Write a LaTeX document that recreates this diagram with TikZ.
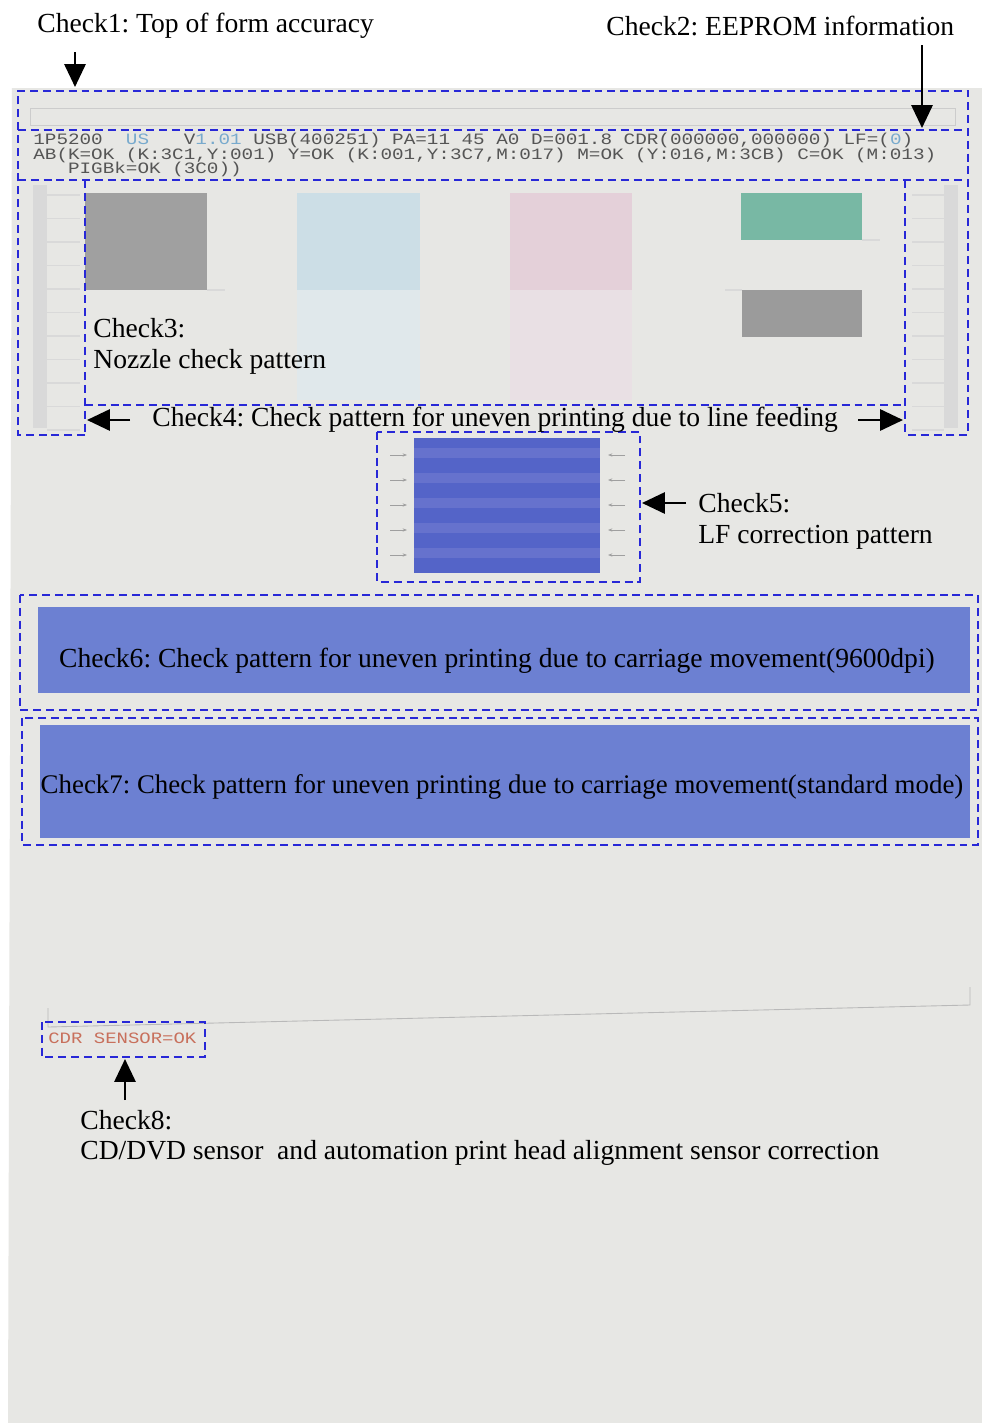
\documentclass[tikz,border=0pt]{standalone}
\usepackage{fontspec}
\setmainfont{Liberation Serif}
\setmonofont{Liberation Mono}
\usetikzlibrary{arrows.meta,positioning}
\frenchspacing
\definecolor{paperC}  {RGB}{231,231,228}
\definecolor{chkBlue} {RGB}{ 40, 40,215}
\definecolor{bandC}   {RGB}{108,128,210}
\definecolor{lfC}     {RGB}{ 84,100,200}
\definecolor{lfStripe}{RGB}{102,114,205}
\definecolor{monoC}   {RGB}{ 85, 85, 85}
\definecolor{verC}    {RGB}{120,170,205}
\definecolor{cdrC}    {RGB}{200,112, 92}
\definecolor{nozK}    {RGB}{160,160,160}
\definecolor{nozC}    {RGB}{204,222,230}
\definecolor{nozCl}   {RGB}{224,232,235}
\definecolor{nozM}    {RGB}{228,208,217}
\definecolor{nozMl}   {RGB}{233,224,228}
\definecolor{nozG}    {RGB}{120,184,164}
\definecolor{nozKb}   {RGB}{155,155,155}
\tikzset{
  chkbox/.style  = {draw=chkBlue, line width=1.4pt,
                    dash pattern=on 4.5pt off 2.8pt},
  lbl/.style     = {anchor=west, inner sep=0pt,
                    font=\fontsize{15.7}{18}\selectfont},
  eeprom/.style  = {anchor=west, inner sep=0pt,
                    font=\fontsize{9}{10}\selectfont\ttfamily, text=monoC},
  bigarr/.style  = {-{Triangle[length=13pt,width=12pt]}, line width=1.4pt},
  tinyarr/.style = {-{Stealth[length=2.5pt]}, gray!75, line width=0.4pt},
  tickln/.style  = {gray!30, line width=0.6pt}
}
\newcommand{\eeline}[1]{\scalebox{1.22}[1]{#1}}
\begin{document}
\begin{tikzpicture}[x=0.02cm, y=-0.02cm]
  \useasboundingbox (0,0) rectangle (982,1423);

  %% ── Paper ─────────────────────────────────────────────────────
  \fill[white] (0,0) rectangle (982,1423);
  \fill[paperC] (12,88) -- (982,88) -- (982,1423) -- (8,1423) -- cycle;
  \draw[gray!40, line width=0.5pt] (30,108) rectangle (955,125);

  %% ── Nozzle check pattern ──────────────────────────────────────
  \fill[nozK]  ( 85,193) rectangle (207,290);
  \fill[nozC]  (297,193) rectangle (420,290);
  \fill[nozCl] (297,290) rectangle (420,400);
  \fill[nozM]  (510,193) rectangle (632,290);
  \fill[nozMl] (510,290) rectangle (632,400);
  \fill[nozG]  (741,193) rectangle (862,240);
  \fill[nozKb] (742,290) rectangle (862,337);
  \draw[tickln] (207,290) -- (225,290);
  \draw[tickln] (862,240) -- (880,240);
  \draw[tickln] (725,290) -- (742,290);

  % side strips
  \fill[gray!30] (33,185) rectangle (47,428);
  \fill[gray!30] (944,185) rectangle (958,428);
  \foreach \y in {195,218.5,...,430} {
    \draw[tickln] (47,\y) -- (80,\y);
    \draw[tickln] (912,\y) -- (944,\y);
  }

  %% ── LF correction pattern ─────────────────────────────────────
  \fill[lfC] (414,438) rectangle (600,573);
  \foreach \y in {448,473,...,560}
    \fill[lfStripe] (414,\y) rectangle (600,\y+10);
  \foreach \y in {455,480,505,530,555} {
    \draw[tinyarr] (390,\y) -- (407,\y);
    \draw[tinyarr] (625,\y) -- (608,\y);
  }

  %% ── Carriage bands ────────────────────────────────────────────
  \fill[bandC] (38,607) rectangle (970,693);
  \fill[bandC] (40,725) rectangle (970,838);

  %% ── Bottom frame ──────────────────────────────────────────────
  \draw[gray!55, line width=0.5pt] (48,1008) -- (48,1027) -- (970,1005) -- (970,987);

  %% ── Dashed check boxes ────────────────────────────────────────
  % Check1 - Check4 share their edges: each edge drawn once
  \draw[chkbox] (85,435) -- (18,435) -- (18,91) -- (968,91) -- (968,435) -- (905,435);
  \draw[chkbox] (18,130) -- (968,130);
  \draw[chkbox] (18,180) -- (968,180);
  \draw[chkbox] (85,180) -- (85,435);
  \draw[chkbox] (905,180) -- (905,435);
  \draw[chkbox] (85,405) -- (905,405);
  \draw[chkbox] (377,432) rectangle (640,582);   % Check5
  \draw[chkbox] (20,595) rectangle (978,710);    % Check6
  \draw[chkbox] (22,718) rectangle (978,845);    % Check7
  \draw[chkbox] (42,1022) rectangle (205,1057);  % Check8

  %% ── EEPROM printout ───────────────────────────────────────────
  \node[eeprom] (eeone) at (33,140) {\eeline{1P5200~~\textcolor{verC}{US}~~~V\textcolor{verC}{1.01} USB(400251) PA=11 45 A0 D=001.8 CDR(000000,000000) LF=(\textcolor{verC}{0})}};
  \node[eeprom] (eetwo) at (33,155) {\eeline{AB(K=OK (K:3C1,Y:001) Y=OK (K:001,Y:3C7,M:017) M=OK (Y:016,M:3CB) C=OK (M:013)}};
  \node[eeprom] (eethree) at (33,169) {\eeline{~~~PIGBk=OK (3C0))}};
  \node[eeprom, text=cdrC] (cdr) at (48,1038) {\scalebox{1.2}[1]{CDR SENSOR=OK}};

  %% ── Labels ────────────────────────────────────────────────────
  \node[lbl] (chkone)  at (37,26)   {Check1: Top of form accuracy};
  \node[lbl] (chktwo)  at (606,26)  {Check2: EEPROM information};
  \node[lbl] (chkthree) at (93,328) {Check3:};
  \node[lbl] (nozzle)  at (93,362)  {Nozzle check pattern};
  \node[lbl] (chkfour) at (152,420) {Check4: Check pattern for uneven printing due to line feeding};
  \node[lbl] (chkfive) at (698,503) {Check5:};
  \node[lbl] (lfcorr)  at (698,537) {LF correction pattern};
  \node[lbl, anchor=center] (chksix)   at (497,661) {Check6: Check pattern for uneven printing due to carriage movement(9600dpi)};
  \node[lbl, anchor=center, font=\fontsize{15.3}{18}\selectfont] (chkseven) at (502,787) {Check7: Check pattern for uneven printing due to carriage movement(standard mode)};
  \node[lbl] (chkeight) at (80,1120) {Check8:};
  \node[lbl] (cddvd)   at (80,1153) {CD/DVD sensor\ \ and automation print head alignment sensor correction};

  %% ── Pointer arrows ────────────────────────────────────────────
  \coordinate (aonetail) at (75,52);   \coordinate (aonehead) at (75,87);
  \coordinate (atwotail) at (922,45);  \coordinate (atwohead) at (922,128);
  \coordinate (afourl)   at (130,420); \coordinate (afourlh)  at (87,420);
  \coordinate (afourr)   at (858,420); \coordinate (afourrh)  at (903,420);
  \coordinate (afivetail) at (686,503); \coordinate (afivehead) at (642,503);
  \coordinate (aeighttail) at (125,1100); \coordinate (aeighthead) at (125,1059);
  \draw[bigarr] (aonetail) -- (aonehead);
  \draw[bigarr] (atwotail) -- (atwohead);
  \draw[bigarr] (afourl) -- (afourlh);
  \draw[bigarr] (afourr) -- (afourrh);
  \draw[bigarr] (afivetail) -- (afivehead);
  \draw[bigarr] (aeighttail) -- (aeighthead);

\end{tikzpicture}
\end{document}
